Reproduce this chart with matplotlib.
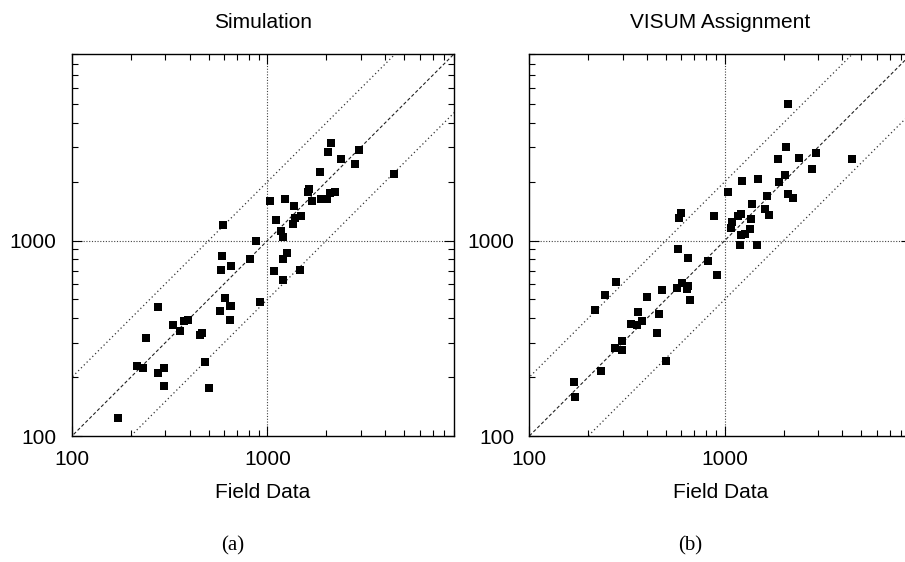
import matplotlib
matplotlib.use("Agg")
import matplotlib.pyplot as plt
from matplotlib.ticker import LogLocator, FixedLocator, FixedFormatter, NullFormatter

# ---- data ----
sim_field = [2110, 2040, 2940, 2380, 2790, 1850, 4430, 1630, 1610, 2210, 2100,
             1030, 1230, 1690, 1880, 2010, 1360, 1480, 1380, 1350, 1100, 590,
             1170, 1200, 873, 1260, 583, 811, 1200, 648, 576, 1077, 1464, 1200,
             604, 913, 274, 569, 641, 654, 641, 392, 372, 327, 355, 460, 450,
             240, 216, 232, 297, 274, 477, 294, 500, 171]
sim_model = [3160, 2840, 2920, 2620, 2450, 2240, 2200, 1830, 1780, 1770, 1760,
             1590, 1630, 1590, 1630, 1630, 1510, 1340, 1300, 1220, 1270, 1200,
             1125, 1040, 1000, 860, 838, 803, 803, 742, 705, 697, 705, 626,
             507, 483, 455, 436, 463, 460, 391, 391, 386, 368, 346, 335, 327,
             316, 228, 222, 222, 211, 238, 181, 175, 124]

visum_field = [2110, 2065, 1880, 2410, 2940, 4490, 2810, 2040, 1900, 1230, 1480,
               1040, 2110, 2240, 1650, 1380, 1610, 1690, 1210, 1170, 1360, 1086,
               1077, 1350, 1270, 1212, 597, 582, 878, 1198, 1460, 574, 648, 821,
               913, 277, 604, 648, 640, 569, 476, 243, 399, 663, 216, 359, 460,
               376, 330, 354, 449, 297, 273, 297, 499, 232, 170, 172]
visum_model = [5010, 3010, 2620, 2650, 2810, 2620, 2320, 2165, 1990, 2020, 2065,
               1770, 1740, 1660, 1690, 1540, 1450, 1350, 1365, 1330, 1290, 1243,
               1158, 1144, 1082, 1063, 1388, 1303, 1339, 950, 950, 903, 812, 787,
               667, 612, 605, 584, 563, 570, 557, 525, 513, 495, 440, 429, 419,
               386, 373, 368, 335, 308, 281, 277, 241, 214, 190, 159]

titles = ["Simulation", "VISUM Assignment"]
captions = ["(a)", "(b)"]
xlabel = "Field Data"
tick_values = [100, 1000]
tick_labels = ["100", "1000"]
axis_range = [100, 9000]
ratio_lines = [0.5, 1.0, 2.0]

plt.rcParams['font.family'] = ['Liberation Sans', 'DejaVu Sans']

fig = plt.figure(figsize=(9.05, 5.62), dpi=100)
W, H = 905, 562
ax_w = 382 / W
ax_h = 382 / H
bottom = (H - 436) / H
lefts = [72 / W, 529.3 / W]

datasets = [(sim_field, sim_model), (visum_field, visum_model)]
caption_x = [233 / W, 690 / W]

for i, (xs, ys) in enumerate(datasets):
    ax = fig.add_axes([lefts[i], bottom, ax_w, ax_h])
    ax.set_xscale('log')
    ax.set_yscale('log')
    ax.set_xlim(axis_range)
    ax.set_ylim(axis_range)

    lo, hi = axis_range
    xx = [lo / 4, hi * 4]
    for r in ratio_lines:
        if r == 1.0:
            ax.plot(xx, [v * r for v in xx], color='#222222', lw=0.8,
                    linestyle=(0, (3, 2)), zorder=1)
        else:
            ax.plot(xx, [v * r for v in xx], color='#333333', lw=0.9,
                    linestyle=(0, (1, 2.2)), zorder=1)
    ax.axvline(1000, color='#444444', lw=0.8, linestyle=(0, (1, 1.5)), zorder=1)
    ax.axhline(1000, color='#444444', lw=0.8, linestyle=(0, (1, 1.5)), zorder=1)

    ax.plot(xs, ys, linestyle='none', marker='s', ms=6, color='black',
            markeredgewidth=0, zorder=3)

    for axis in (ax.xaxis, ax.yaxis):
        axis.set_major_locator(FixedLocator(tick_values))
        axis.set_major_formatter(FixedFormatter(tick_labels))
        axis.set_minor_locator(LogLocator(base=10, subs=range(2, 10)))
        axis.set_minor_formatter(NullFormatter())
    ax.tick_params(which='both', direction='in', top=True, right=True,
                   width=0.8, color='black', labelsize=15)
    ax.tick_params(which='major', length=7)
    ax.tick_params(which='minor', length=4)
    ax.tick_params(axis='x', which='major', pad=10)
    ax.tick_params(axis='y', which='major', pad=11)
    for s in ax.spines.values():
        s.set_linewidth(1.0)

    ax.set_title(titles[i], fontsize=15, pad=19)
    ax.set_xlabel(xlabel, fontsize=15, labelpad=10.5)

    fig.text(caption_x[i], (H - 546) / H, captions[i], ha='center', va='center',
             fontsize=15, family=['Liberation Serif', 'DejaVu Serif'])

fig.savefig('out.png', dpi=100)
